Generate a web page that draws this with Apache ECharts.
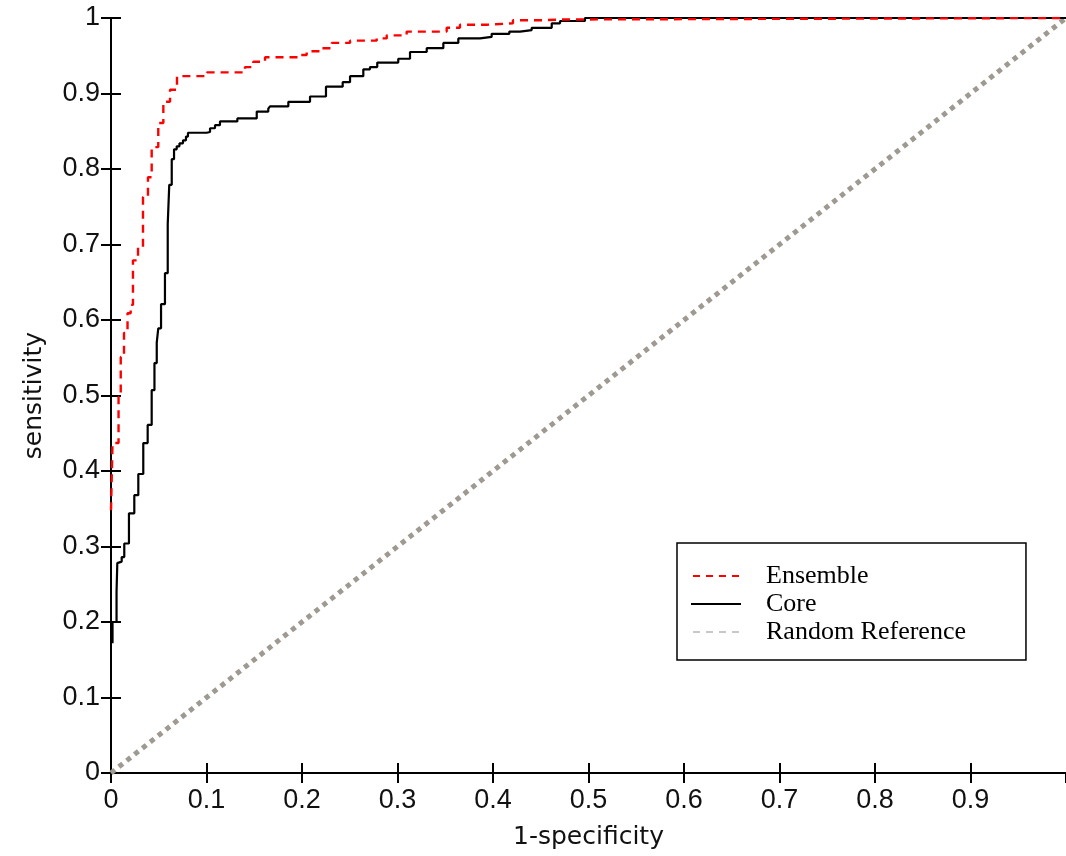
<!DOCTYPE html>
<html><head><meta charset="utf-8">
<script src="https://cdn.jsdelivr.net/npm/echarts@6/dist/echarts.min.js"></script>
<style>html,body{margin:0;padding:0;background:#fff}#c{width:1066px;height:856px}</style>
</head><body><div id="c"></div>
<script>
const seriesNames = ['Ensemble', 'Core', 'Random Reference'];
const axisNames = { x: '1-specificity', y: 'sensitivity' };

const ensembleX = [0, 0.0016, 0.0079, 0.0102, 0.0136, 0.0173, 0.0206, 0.0230, 0.0283, 0.0335, 0.0387, 0.0426, 0.0495, 0.0548, 0.0618, 0.0691, 0.1005, 0.1403, 0.1490, 0.1613, 0.1979, 0.2049, 0.2188, 0.2311, 0.2503, 0.2782, 0.2887, 0.3096, 0.3515, 0.3654, 0.3934, 0.4209, 0.4492, 0.4733, 1];
const ensembleY = [0.348, 0.437, 0.498, 0.551, 0.583, 0.609, 0.620, 0.679, 0.697, 0.763, 0.789, 0.829, 0.861, 0.889, 0.905, 0.923, 0.928, 0.935, 0.942, 0.948, 0.951, 0.956, 0.960, 0.967, 0.970, 0.973, 0.977, 0.982, 0.987, 0.991, 0.993, 0.997, 0.998, 1.0, 1.0];

const coreX = [0.0016, 0.0016, 0.0058, 0.0066, 0.0084, 0.0112, 0.0139, 0.0188, 0.0244, 0.0286, 0.0338, 0.0384, 0.0426, 0.0455, 0.0479, 0.0495, 0.0524, 0.0565, 0.0594, 0.0610, 0.0636, 0.0660, 0.0688, 0.0717, 0.0754, 0.0785, 0.0806, 0.1002, 0.1037, 0.1089, 0.1141, 0.1323, 0.1526, 0.1647, 0.1665, 0.1857, 0.2084, 0.2251, 0.2426, 0.2503, 0.2642, 0.2712, 0.2788, 0.3008, 0.3131, 0.3306, 0.3480, 0.3637, 0.3864, 0.3986, 0.4171, 0.4283, 0.4405, 0.4615, 0.4702, 0.4963, 1];
const coreY = [0.172, 0.200, 0.240, 0.278, 0.280, 0.286, 0.304, 0.344, 0.368, 0.396, 0.437, 0.461, 0.507, 0.543, 0.570, 0.589, 0.621, 0.662, 0.727, 0.779, 0.813, 0.826, 0.830, 0.834, 0.838, 0.843, 0.848, 0.849, 0.854, 0.858, 0.863, 0.867, 0.876, 0.880, 0.883, 0.889, 0.896, 0.909, 0.915, 0.923, 0.932, 0.935, 0.941, 0.946, 0.955, 0.960, 0.967, 0.973, 0.975, 0.979, 0.982, 0.984, 0.987, 0.993, 0.996, 1.0, 1.0];

const randomX = [0, 1];
const randomY = [0, 1];

const zip = (xs, ys) => xs.map((x, i) => [x, ys[i]]);

const tickFont = { fontFamily: 'Liberation Sans', fontSize: 27, color: '#111' };
const nameFont = { fontFamily: 'DejaVu Sans', fontSize: 25, color: '#111' };
const axisLine = { show: true, lineStyle: { color: '#000', width: 2 } };
const tick = { inside: true, length: 10, lineStyle: { color: '#000', width: 2 } };

const solidIcon = 'path://M0,0h50v2h-50z';
const dashIcon = 'path://M0,0h7v2h-7z M13,0h7v2h-7z M26,0h7v2h-7z M39,0h7v2h-7z';

const chart = echarts.init(document.getElementById('c'), null, { renderer: 'canvas' });
chart.setOption({
  backgroundColor: '#fff',
  animation: false,
  grid: { left: 111, top: 18, width: 956, height: 755, containLabel: false },
  xAxis: [
    { type: 'value', min: 0, max: 1, interval: 0.1, position: 'bottom',
      name: axisNames.x, nameLocation: 'middle', nameGap: 52, nameTextStyle: nameFont,
      axisLine: axisLine, axisTick: tick,
      axisLabel: Object.assign({ margin: 14, showMaxLabel: false }, tickFont), splitLine: { show: false } },
    { type: 'value', min: 0, max: 1, interval: 0.1, position: 'top',
      axisLine: axisLine, axisTick: tick, axisLabel: { show: false }, splitLine: { show: false } }
  ],
  yAxis: [
    { type: 'value', min: 0, max: 1, interval: 0.1, position: 'left',
      name: axisNames.y, nameLocation: 'middle', nameGap: 64, nameRotate: 90, nameTextStyle: nameFont,
      axisLine: axisLine, axisTick: tick,
      axisLabel: Object.assign({ margin: 11 }, tickFont), splitLine: { show: false } },
    { type: 'value', min: 0, max: 1, interval: 0.1, position: 'right',
      axisLine: axisLine, axisTick: tick, axisLabel: { show: false }, splitLine: { show: false } }
  ],
  legend: {
    orient: 'vertical', left: 677, top: 543,
    padding: [19, 60, 14, 14],
    itemWidth: 50, itemHeight: 2, itemGap: 0,
    borderColor: '#000', borderWidth: 1.5, backgroundColor: '#fff',
    textStyle: { fontFamily: 'Liberation Serif', fontSize: 26, color: '#000', lineHeight: 28, padding: [0, 0, 0, 20] },
    data: [
      { name: seriesNames[0], icon: dashIcon, itemStyle: { color: '#ff0000' } },
      { name: seriesNames[1], icon: solidIcon, itemStyle: { color: '#000' } },
      { name: seriesNames[2], icon: dashIcon, itemStyle: { color: '#c8c8c8' } }
    ]
  },
  series: [
    { name: seriesNames[2], type: 'line', data: zip(randomX, randomY), symbol: 'none', z: 1,
      itemStyle: { color: '#c8c8c8' },
      lineStyle: { color: '#9f9a91', width: 5, type: [5, 5] }, silent: true },
    { name: seriesNames[1], type: 'line', data: zip(coreX, coreY), step: 'end', symbol: 'none', z: 3,
      itemStyle: { color: '#000' },
      lineStyle: { color: '#000', width: 2.2 } },
    { name: seriesNames[0], type: 'line', data: zip(ensembleX, ensembleY), step: 'end', symbol: 'none', z: 4,
      itemStyle: { color: '#ff0000' },
      lineStyle: { color: '#ff0000', width: 2.4, type: [8, 6] } }
  ]
});
</script></body></html>
